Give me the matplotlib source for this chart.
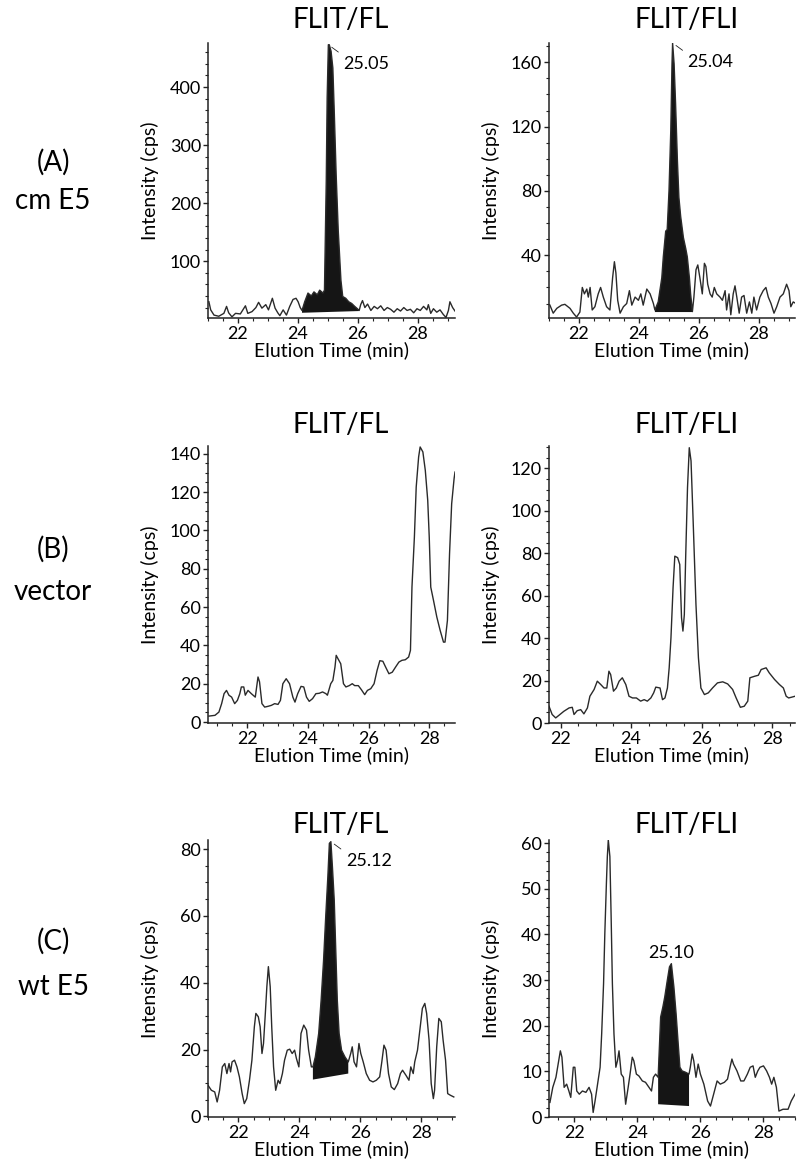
import matplotlib
matplotlib.use('Agg')
import matplotlib.pyplot as plt
from matplotlib.ticker import MultipleLocator

plt.rcParams['font.family'] = ['Lato', 'DejaVu Sans']

W, H = 800, 1164

# ---- (A) cm E5 ----
a_fl_t = [21.03, 21.09, 21.20, 21.36, 21.53, 21.62, 21.69, 21.80, 21.92, 22.08,
          22.25, 22.33, 22.47, 22.60, 22.69, 22.80, 22.93, 23.02, 23.15, 23.24,
          23.33, 23.40, 23.51, 23.62, 23.73, 23.84, 23.94, 24.01, 24.08, 24.14,
          24.23, 24.34, 24.45, 24.54, 24.65, 24.73, 24.84, 24.89, 24.95, 24.98,
          25.02, 25.05, 25.11, 25.17, 25.22, 25.28, 25.35, 25.44, 25.50, 25.60,
          25.70, 25.80, 25.90, 25.99, 26.05, 26.10, 26.16, 26.24, 26.33, 26.44,
          26.55, 26.66, 26.77, 26.88, 26.99, 27.10, 27.21, 27.32, 27.43, 27.54,
          27.65, 27.76, 27.87, 27.98, 28.09, 28.20, 28.31, 28.36, 28.44, 28.53,
          28.64, 28.75, 28.86, 28.95, 29.03, 29.08, 29.17, 29.25]
a_fl_v = [30, 16, 7, 5, 10, 22, 11, 4, 10, 9,
          23, 10, 13, 20, 29, 19, 25, 16, 36, 19,
          11, 6, 16, 7, 22, 34, 36, 30, 20, 15,
          30, 45, 40, 47, 42, 50, 45, 50, 239, 382,
          473, 473, 462, 433, 353, 250, 153, 67, 39, 36,
          30, 27, 22, 18, 15, 25, 32, 20, 26, 15,
          22, 18, 23, 15, 20, 17, 12, 18, 14, 20,
          15, 17, 11, 18, 15, 22, 16, 25, 10, 18,
          12, 16, 8, 3, 15, 30, 20, 14]
a_fl_fill = (24.14, 26.05)
a_fl_base = (11, 14)

a_fli_t = [21.03, 21.14, 21.26, 21.42, 21.53, 21.70, 21.81, 21.92, 22.03, 22.11,
           22.18, 22.26, 22.31, 22.37, 22.44, 22.53, 22.64, 22.72, 22.81, 22.92,
           23.03, 23.12, 23.18, 23.23, 23.29, 23.37, 23.48, 23.59, 23.68, 23.76,
           23.87, 23.98, 24.06, 24.14, 24.26, 24.37, 24.48, 24.53, 24.64, 24.76,
           24.81, 24.89, 24.94, 25.00, 25.06, 25.10, 25.12, 25.17, 25.22, 25.28,
           25.33, 25.39, 25.48, 25.56, 25.61, 25.68, 25.72, 25.78, 25.83, 25.90,
           25.96, 26.03, 26.11, 26.18, 26.23, 26.29, 26.37, 26.44, 26.51, 26.59,
           26.70, 26.78, 26.87, 26.92, 27.00, 27.06, 27.14, 27.20, 27.26, 27.34,
           27.42, 27.50, 27.59, 27.68, 27.76, 27.83, 27.92, 28.03, 28.14, 28.23,
           28.31, 28.40, 28.50, 28.59, 28.70, 28.81, 28.92, 29.00, 29.06, 29.14,
           29.23]
a_fli_v = [9, 4, 7, 9, 9.5, 7, 4, 1.6, 4.7, 20,
           16, 19, 14, 20, 6, 8, 16, 20, 14, 8,
           6, 26, 36, 29, 12, 4, 8, 10, 18, 9,
           14, 12, 16, 9, 19, 16, 10, 6, 11, 26,
           39, 55, 56, 80, 118, 159, 172, 159, 134, 99,
           76, 64, 51, 44, 39, 26, 16, 5, 14, 31,
           34, 26, 16, 35, 33, 22, 16, 14, 20, 16,
           14, 12, 18, 6, 16, 3, 16, 21, 14, 4,
           14, 15, 4, 11, 4, 14, 6, 14, 18, 20,
           14, 10, 4, 8, 14, 16, 22, 18, 8, 11,
           10]
a_fli_fill = (24.53, 25.78)
a_fli_base = (4.7, 4.7)

# ---- (B) vector ----
b_fl_t = [20.73, 20.93, 21.06, 21.15, 21.23, 21.31, 21.39, 21.48, 21.58, 21.67,
          21.75, 21.80, 21.88, 21.93, 22.02, 22.13, 22.26, 22.35, 22.40, 22.48,
          22.57, 22.68, 22.79, 22.90, 23.01, 23.09, 23.17, 23.28, 23.39, 23.50,
          23.57, 23.66, 23.77, 23.86, 23.95, 24.04, 24.15, 24.26, 24.37, 24.48,
          24.59, 24.64, 24.75, 24.82, 24.89, 24.93, 24.99, 25.08, 25.17, 25.25,
          25.36, 25.46, 25.54, 25.66, 25.76, 25.87, 25.96, 26.07, 26.18, 26.28,
          26.37, 26.47, 26.56, 26.67, 26.78, 26.89, 27.00, 27.10, 27.21, 27.32,
          27.38, 27.43, 27.51, 27.57, 27.65, 27.70, 27.79, 27.87, 27.95, 28.00,
          28.05, 28.14, 28.25, 28.36, 28.47, 28.52, 28.60, 28.67, 28.74, 28.82,
          28.85]
b_fl_v = [3.1, 3.5, 5.2, 9.6, 14.8, 16.5, 14, 13, 9.6, 11.3,
          14.8, 18.3, 18.3, 14, 16.5, 14.8, 13, 23.5, 21, 9.6,
          7.8, 8.2, 8.7, 9.6, 9.2, 11.3, 20, 22.6, 20, 13,
          10.4, 14.8, 18.6, 18.3, 13, 10.8, 12.2, 14.8, 15, 15.7,
          14.8, 14, 20, 21.7, 28.7, 34.8, 33, 30.4, 20, 18.3,
          19, 20, 19, 19, 16.9, 14.3, 16.5, 17.4, 20, 27,
          32, 31.7, 28.7, 25.2, 26, 28.7, 31.3, 32.2, 32.5, 33.9,
          37.4, 70.4, 96.5, 122.6, 138.3, 143.5, 140.9, 131.3, 115.7, 96.5,
          70.4, 63.5, 54.8, 47.8, 41.7, 41.7, 53, 87.8, 113.9, 127,
          130.4]

b_fli_t = [21.67, 21.76, 21.86, 21.95, 22.09, 22.24, 22.33, 22.38, 22.47, 22.57,
           22.66, 22.76, 22.83, 22.95, 23.04, 23.14, 23.23, 23.31, 23.37, 23.42,
           23.50, 23.58, 23.66, 23.75, 23.85, 23.94, 24.04, 24.15, 24.27, 24.37,
           24.46, 24.56, 24.64, 24.70, 24.82, 24.89, 24.96, 25.03, 25.08, 25.13,
           25.19, 25.24, 25.32, 25.38, 25.43, 25.47, 25.51, 25.55, 25.60, 25.65,
           25.70, 25.76, 25.84, 25.91, 25.98, 26.08, 26.19, 26.31, 26.45, 26.60,
           26.74, 26.88, 26.98, 27.10, 27.21, 27.31, 27.37, 27.50, 27.61, 27.69,
           27.83, 27.92, 28.07, 28.21, 28.32, 28.40, 28.47, 28.54, 28.65]
b_fli_v = [7.9, 4, 2.4, 3.6, 5.5, 7.1, 7.4, 4, 5.8, 6.3,
           4.3, 7.1, 12.6, 15.8, 19.7, 18.1, 16.5, 16.5, 24.4, 22.8,
           15, 16.5, 19.7, 21.3, 18.1, 12.6, 11.8, 11.8, 10.3, 11,
           10.3, 11.8, 14.2, 16.9, 16.5, 11, 11.8, 16.5, 26, 40,
           63.7, 78.6, 77.9, 74.7, 49.6, 43.3, 51.1, 79.4, 110.9, 129.7,
           123.5, 95.2, 55.8, 30.7, 16.5, 13.4, 14.2, 16.5, 18.9, 19.4,
           18.4, 15.8, 11.8, 7.4, 7.9, 10.3, 21.3, 22, 22.5, 25.2,
           26, 23.6, 20.5, 18.1, 16.5, 12.6, 11.8, 12.1, 12.6]

# ---- (C) wt E5 ----
c_fl_t = [21.00, 21.11, 21.22, 21.30, 21.38, 21.47, 21.55, 21.62, 21.69, 21.74,
          21.79, 21.87, 21.95, 22.03, 22.12, 22.19, 22.27, 22.36, 22.44, 22.52,
          22.57, 22.65, 22.71, 22.77, 22.82, 22.88, 22.93, 22.98, 23.04, 23.09,
          23.15, 23.22, 23.30, 23.36, 23.44, 23.51, 23.60, 23.68, 23.76, 23.84,
          23.90, 23.98, 24.05, 24.14, 24.23, 24.30, 24.39, 24.44, 24.52, 24.63,
          24.71, 24.79, 24.86, 24.93, 24.98, 25.03, 25.08, 25.14, 25.19, 25.24,
          25.30, 25.38, 25.49, 25.60, 25.68, 25.73, 25.79, 25.87, 25.95, 26.01,
          26.09, 26.19, 26.30, 26.41, 26.52, 26.63, 26.70, 26.77, 26.84, 26.92,
          27.01, 27.11, 27.22, 27.31, 27.38, 27.49, 27.59, 27.65, 27.73, 27.78,
          27.87, 27.96, 28.03, 28.11, 28.17, 28.25, 28.32, 28.39, 28.43, 28.50,
          28.57, 28.65, 28.71, 28.79, 28.86, 28.95, 29.06]
c_fl_v = [9.3, 7.8, 7.3, 4.3, 7.8, 14.8, 15.8, 12.8, 15.8, 13.3,
          16.3, 16.8, 14.8, 11.8, 6.8, 3.8, 5.3, 10.8, 16.8, 26.8,
          30.8, 29.8, 26.8, 18.8, 21.8, 30.8, 38.8, 44.8, 38.8, 26.8,
          14.8, 7.8, 10.8, 9.8, 12.8, 16.8, 19.8, 20.1, 18.8, 19.8,
          17.3, 14.8, 24.8, 27.3, 25.8, 19.8, 14.8, 14.8, 17.8, 24.8,
          34.8, 46.7, 59.7, 71.7, 81.7, 82.2, 74.7, 64.7, 49.7, 34.8,
          24.8, 19.8, 17.8, 16.3, 18.8, 20.8, 16.3, 14.8, 21.8, 18.8,
          16.3, 12.8, 10.8, 10.3, 10.8, 11.8, 16.3, 21.3, 19.8, 12.8,
          8.8, 8, 9.8, 12.8, 13.8, 12.3, 10.8, 14.8, 12.8, 16.3,
          19.8, 26.8, 32.3, 33.8, 30.8, 22.8, 9.8, 5.3, 7.8, 20.8,
          29.3, 28.3, 22.8, 16.8, 6.8, 6.3, 5.8]
c_fl_fill = (24.44, 25.60)
c_fl_base = (11.0, 12.8)

c_fli_t = [21.23, 21.32, 21.42, 21.49, 21.56, 21.61, 21.68, 21.76, 21.83, 21.89,
           21.97, 22.02, 22.08, 22.16, 22.26, 22.37, 22.47, 22.55, 22.60, 22.66,
           22.74, 22.82, 22.87, 22.93, 22.97, 23.02, 23.05, 23.08, 23.13, 23.17,
           23.21, 23.26, 23.32, 23.37, 23.42, 23.49, 23.56, 23.63, 23.71, 23.77,
           23.84, 23.89, 23.97, 24.05, 24.16, 24.26, 24.37, 24.45, 24.51, 24.58,
           24.66, 24.74, 24.81, 24.87, 24.95, 25.02, 25.08, 25.16, 25.23, 25.29,
           25.35, 25.42, 25.53, 25.64, 25.68, 25.74, 25.79, 25.86, 25.93, 26.00,
           26.11, 26.23, 26.32, 26.42, 26.53, 26.63, 26.76, 26.86, 26.94, 27.00,
           27.05, 27.16, 27.28, 27.38, 27.49, 27.58, 27.67, 27.74, 27.82, 27.89,
           28.00, 28.10, 28.19, 28.26, 28.33, 28.41, 28.49, 28.62, 28.78, 28.88,
           29.00]
c_fli_v = [3.2, 6.5, 8.7, 11.6, 14.5, 13.1, 6.5, 7.2, 5.7, 4.3,
           10.9, 10.9, 5.7, 5.0, 5.7, 5.4, 6.5, 5.0, 1.0, 3.5,
           7.2, 10.9, 18.2, 29.2, 40.2, 51.2, 57.1, 60.7, 57.1, 43.9,
           29.2, 18.2, 10.9, 12.3, 14.5, 9.4, 8.7, 2.8, 6.5, 9.4,
           13.1, 12.3, 9.4, 9.0, 7.9, 7.6, 6.5, 5.7, 8.7, 9.4,
           8.7, 21.9, 24.1, 26.3, 29.9, 32.9, 33.6, 28.5, 22.6, 16.7,
           10.9, 10.1, 9.8, 9.4, 10.9, 13.8, 12.3, 8.7, 11.6, 9.4,
           7.2, 3.5, 2.4, 5.0, 7.9, 7.2, 7.6, 8.3, 10.9, 12.7,
           11.6, 10.1, 7.9, 7.9, 9.4, 10.9, 11.2, 8.7, 10.1, 10.9,
           11.2, 10.1, 8.7, 7.2, 8.7, 6.5, 1.3, 1.7, 1.7, 3.5,
           5.0]
c_fli_fill = (24.66, 25.64)
c_fli_base = (2.8, 2.4)

row_labels = [("(A)", "cm E5"), ("(B)", "vector"), ("(C)", "wt E5")]
col_titles = ["FLIT/FL", "FLIT/FLI"]


def rect(x0, w, top, bottom):
    return [x0 / W, 1 - bottom / H, w / W, (bottom - top) / H]


def draw(ax, t, v, xlim, ylim, ymaj, ymin, fill=None, base=None,
         label=None, label_style='side'):
    ax.plot(t, v, color='#2a2a2a', lw=1.0)
    if fill is not None:
        xs = [x for x in t if fill[0] <= x <= fill[1]]
        ys = [y for x, y in zip(t, v) if fill[0] <= x <= fill[1]]
        ax.fill(xs + [fill[1], fill[0]], ys + [base[1], base[0]],
                color='#151515', lw=0)
    ax.set_xlim(*xlim)
    ax.set_ylim(*ylim)
    ax.xaxis.set_major_locator(MultipleLocator(2))
    ax.xaxis.set_minor_locator(MultipleLocator(0.5))
    ax.yaxis.set_major_locator(MultipleLocator(ymaj))
    ax.yaxis.set_minor_locator(MultipleLocator(ymin))
    for s in ['top', 'right']:
        ax.spines[s].set_visible(False)
    for s in ['left', 'bottom']:
        ax.spines[s].set_linewidth(1.1)
        ax.spines[s].set_color('#222222')
    ax.tick_params(axis='both', which='major', labelsize=13, length=3.5,
                   width=1.0, color='#222222')
    ax.tick_params(axis='both', which='minor', length=2, width=0.8,
                   color='#222222')
    ax.tick_params(axis='x', which='major', pad=2)
    ax.tick_params(axis='y', which='major', pad=1.5)
    ax.set_xlabel('Elution Time (min)', fontsize=14, labelpad=0)
    ax.text(-0.235, 0.5, 'Intensity (cps)', transform=ax.transAxes,
            rotation=90, ha='center', va='center', fontsize=14)
    if label is not None:
        # label the apex of the shaded peak
        idx = [k for k in range(len(t)) if fill[0] <= t[k] <= fill[1]]
        i = max(idx, key=lambda k: v[k])
        if label_style == 'side':
            ax.annotate(label, xy=(t[i], v[i]), xytext=(15, -11),
                        textcoords='offset pixels', ha='left', va='top',
                        fontsize=13,
                        arrowprops=dict(arrowstyle='-', lw=0.6, color='#222222',
                                        shrinkA=2, shrinkB=3,
                                        relpos=(0, 1)))
        else:
            ax.annotate(label, xy=(t[i], v[i]), xytext=(0, 3),
                        textcoords='offset pixels', ha='center', va='bottom',
                        fontsize=13)


fig = plt.figure(figsize=(W / 100, H / 100), dpi=100)

rows = [(43, 318), (446, 723), (840, 1117)]
cols = [(208, 247), (549, 246)]

ax = fig.add_axes(rect(cols[0][0], cols[0][1], *rows[0]))
draw(ax, a_fl_t, a_fl_v, (21.0, 29.25), (2, 476), 100, 20,
     a_fl_fill, a_fl_base, '25.05')
ax = fig.add_axes(rect(cols[1][0], cols[1][1], *rows[0]))
draw(ax, a_fli_t, a_fli_v, (21.0, 29.2), (1, 172), 40, 10,
     a_fli_fill, a_fli_base, '25.04')

ax = fig.add_axes(rect(cols[0][0], cols[0][1], *rows[1]))
draw(ax, b_fl_t, b_fl_v, (20.7, 28.85), (-0.5, 144), 20, 5)
ax = fig.add_axes(rect(cols[1][0], cols[1][1], *rows[1]))
draw(ax, b_fli_t, b_fli_v, (21.67, 28.65), (0, 130.5), 20, 5)

ax = fig.add_axes(rect(cols[0][0], cols[0][1], *rows[2]))
draw(ax, c_fl_t, c_fl_v, (21.0, 29.1), (-0.2, 82.7), 20, 5,
     c_fl_fill, c_fl_base, '25.12')
ax = fig.add_axes(rect(cols[1][0], cols[1][1], *rows[2]))
draw(ax, c_fli_t, c_fli_v, (21.2, 29.0), (0, 60.7), 10, 2,
     c_fli_fill, c_fli_base, '25.10', label_style='top')

# column titles and row labels
title_base = [28, 433, 833]
for yb in title_base:
    fig.text(341 / W, 1 - yb / H, col_titles[0], fontsize=20,
             ha='center', va='baseline')
    fig.text(687 / W, 1 - yb / H, col_titles[1], fontsize=20,
             ha='center', va='baseline')

row_base = [(171, 209), (558, 600), (950, 995)]
for (l1, l2), (y1, y2) in zip(row_labels, row_base):
    fig.text(53 / W, 1 - y1 / H, l1, fontsize=20, ha='center', va='baseline')
    fig.text(53 / W, 1 - y2 / H, l2, fontsize=20, ha='center', va='baseline')

fig.savefig('out.png', dpi=100)
